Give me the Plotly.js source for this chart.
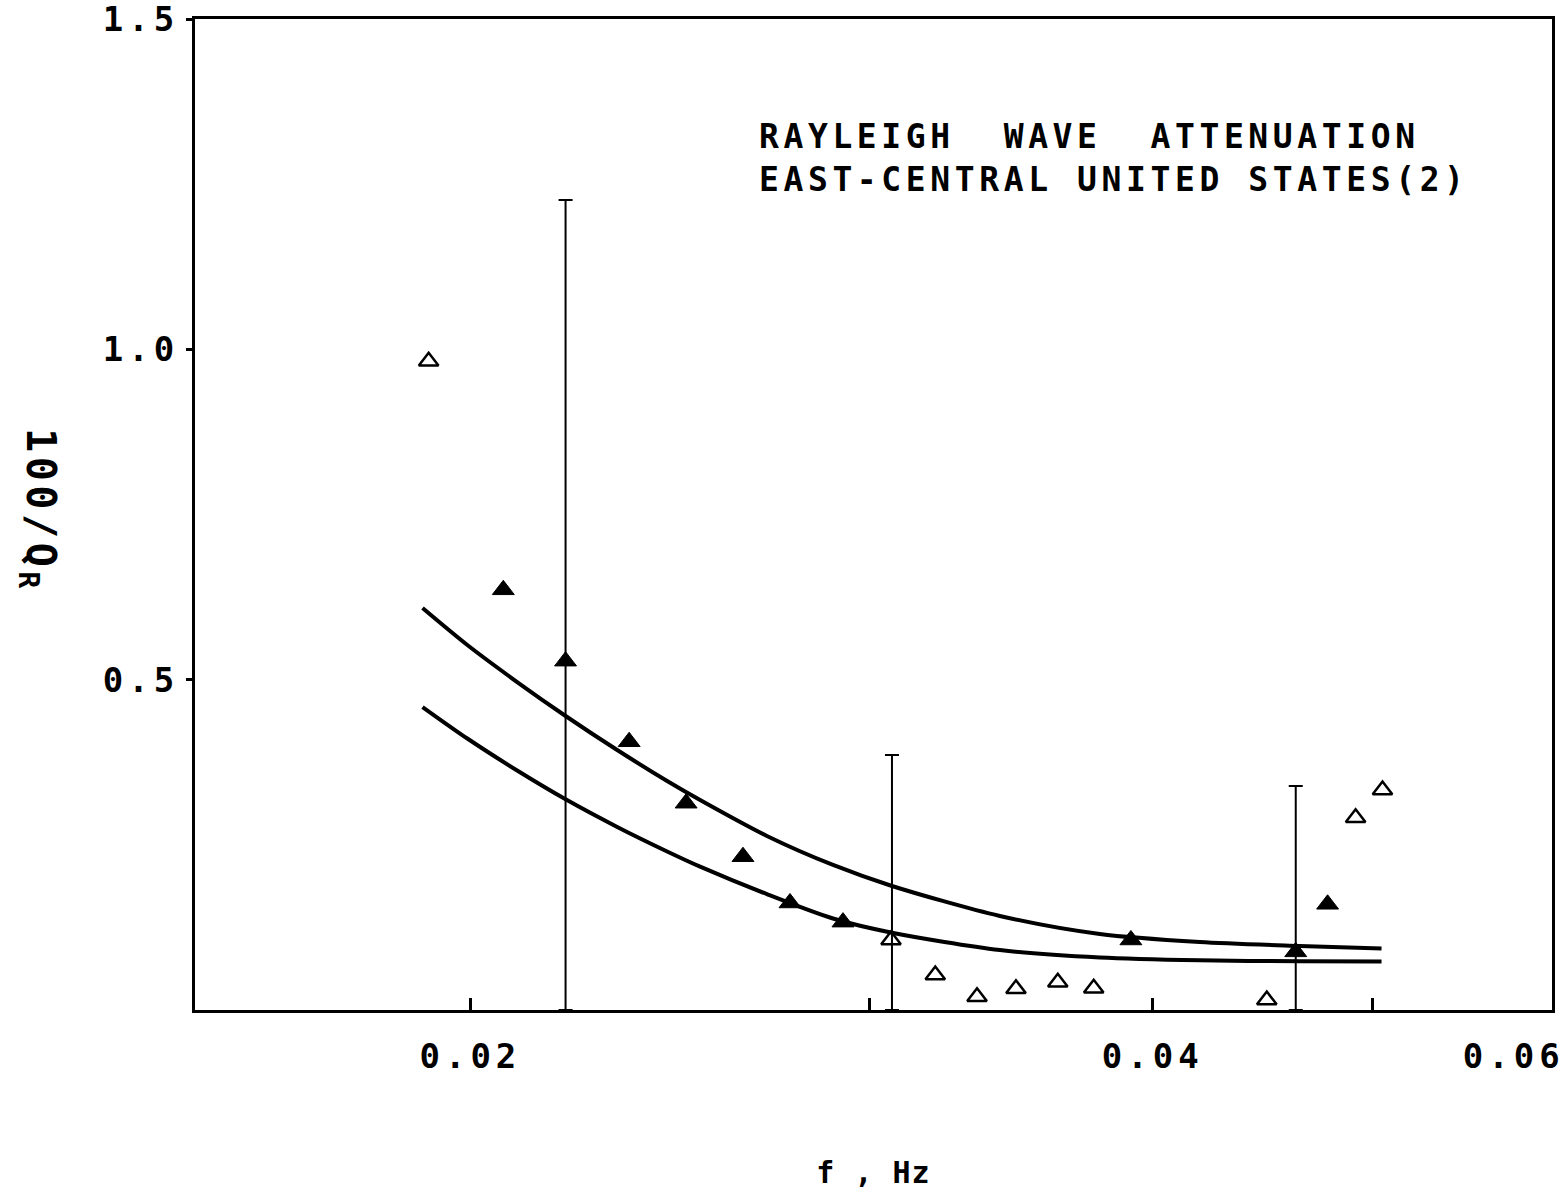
<!DOCTYPE html>
<html>
<head>
<meta charset="utf-8">
<script src="https://cdn.plot.ly/plotly-3.0.1.min.js"></script>
<style>
  body { margin: 0; background: #fff; }
  #chart { width: 1564px; height: 1195px; }
  .xtick text, .ytick text { letter-spacing: 5px; }
  .annotation-text { letter-spacing: 4.6px; }
  .g-xtitle text { letter-spacing: 1px; }
</style>
</head>
<body>
<div id="chart"></div>
<script>
// Filled triangles
const filledFreq = [0.02068, 0.02203, 0.02350, 0.02490, 0.02638, 0.02767, 0.02920, 0.03912, 0.04625, 0.04777];
const filledQ    = [0.636,   0.528,   0.406,   0.313,   0.232,   0.162,   0.133,   0.106,   0.088,   0.160];
// Open triangles
const openFreq = [0.01917, 0.03066, 0.03207, 0.03346, 0.03481, 0.03632, 0.03767, 0.04491, 0.04915, 0.05051];
const openQ    = [0.982,   0.106,   0.053,   0.020,   0.032,   0.042,   0.033,   0.015,   0.291,   0.333];
// Error bars (vertical, from axis up to top value)
const errFreq  = [0.02203, 0.03069, 0.04625];
const errLow   = [0, 0, 0];
const errUpper = [1.226, 0.386, 0.339];
// Model curves
const curveFreq  = [0.019051, 0.019938, 0.020973, 0.022031, 0.023216, 0.024424, 0.025256, 0.027029, 0.028906, 0.030690, 0.034245, 0.037904, 0.041956, 0.046437, 0.050460];
const upperCurve = [0.6084,   0.5524,   0.4964,   0.4450,   0.3935,   0.3466,   0.3178,   0.2634,   0.2195,   0.1877,   0.1423,   0.1150,   0.1029,   0.0969,   0.0931];
const lowerCurve = [0.4586,   0.4109,   0.3625,   0.3189,   0.2771,   0.2400,   0.2170,   0.1754,   0.1385,   0.1170,   0.0908,   0.0795,   0.0752,   0.0737,   0.0734];
// Ticks
const xTickVals = [0.02, 0.03, 0.04, 0.05, 0.06];
const xTickText = ['0.02', '', '0.04', '', '0.06\u00a0\u00a0\u00a0'];
const yTickVals = [0.5, 1.0, 1.5];
const yTickText = ['0.5', '1.0', '1.5'];

const monoFont = 'DejaVu Sans Mono, Liberation Mono, monospace';

const traces = [
  {
    x: curveFreq, y: upperCurve, mode: 'lines', line: {color: '#000', width: 4, shape: 'spline', smoothing: 0.8},
    hoverinfo: 'skip', showlegend: false
  },
  {
    x: curveFreq, y: lowerCurve, mode: 'lines', line: {color: '#000', width: 4, shape: 'spline', smoothing: 0.8},
    hoverinfo: 'skip', showlegend: false
  },
  {
    x: errFreq, y: errLow, mode: 'markers', marker: {opacity: 0, size: 1},
    error_y: {type: 'data', symmetric: false, array: errUpper, arrayminus: errLow, color: '#000', thickness: 2, width: 7},
    hoverinfo: 'skip', showlegend: false
  },
  {
    x: filledFreq, y: filledQ, mode: 'markers',
    marker: {symbol: 'triangle-up', size: 19, color: '#000', line: {color: '#000', width: 1}},
    showlegend: false
  },
  {
    x: openFreq, y: openQ, mode: 'markers',
    marker: {symbol: 'triangle-up-open', size: 17, color: '#000', line: {color: '#000', width: 2.5}},
    showlegend: false
  }
];

const layout = {
  width: 1564, height: 1195,
  margin: {l: 195, r: 12, t: 19, b: 185},
  paper_bgcolor: '#fff', plot_bgcolor: '#fff',
  showlegend: false,
  xaxis: {
    type: 'log',
    range: [Math.log10(0.01512), Math.log10(0.06)],
    tickvals: xTickVals, ticktext: xTickText,
    ticks: 'inside', ticklen: 12, tickwidth: 3, tickcolor: '#000',
    showline: true, linecolor: '#000', linewidth: 3, mirror: true,
    showgrid: false, zeroline: false,
    ticklabelstandoff: 14,
    ticklabeloverflow: 'allow',
    tickfont: {family: monoFont, size: 34, color: '#000', weight: 'bold'},
    title: {text: 'f , Hz\u00a0', font: {family: monoFont, size: 30, color: '#000', weight: 'bold'}, standoff: 88}
  },
  yaxis: {
    range: [0, 1.5],
    tickvals: yTickVals, ticktext: yTickText,
    ticks: 'outside', ticklen: 6, tickwidth: 3, tickcolor: '#000',
    showline: true, linecolor: '#000', linewidth: 3, mirror: true,
    showgrid: false, zeroline: false,
    ticklabeloverflow: 'allow',
    tickfont: {family: monoFont, size: 34, color: '#000', weight: 'bold'}
  },
  annotations: [
    {
      xref: 'paper', yref: 'paper', x: 0.414, y: 0.86, xanchor: 'left', yanchor: 'middle', align: 'left',
      text: 'RAYLEIGH\u00a0 WAVE\u00a0 ATTENUATION<br>EAST-CENTRAL UNITED STATES(2)',
      showarrow: false, font: {family: monoFont, size: 33, color: '#000', weight: 'bold'}
    },
    {
      xref: 'paper', yref: 'paper', x: (38 - 195) / 1357, y: (1010 - 510) / 991, xanchor: 'center', yanchor: 'middle',
      text: '100/Q<sub>R</sub>', textangle: 90,
      showarrow: false, font: {family: monoFont, size: 40, color: '#000', weight: 'bold'}
    }
  ]
};

Plotly.newPlot('chart', traces, layout, {displayModeBar: false, staticPlot: true});
</script>
</body>
</html>
